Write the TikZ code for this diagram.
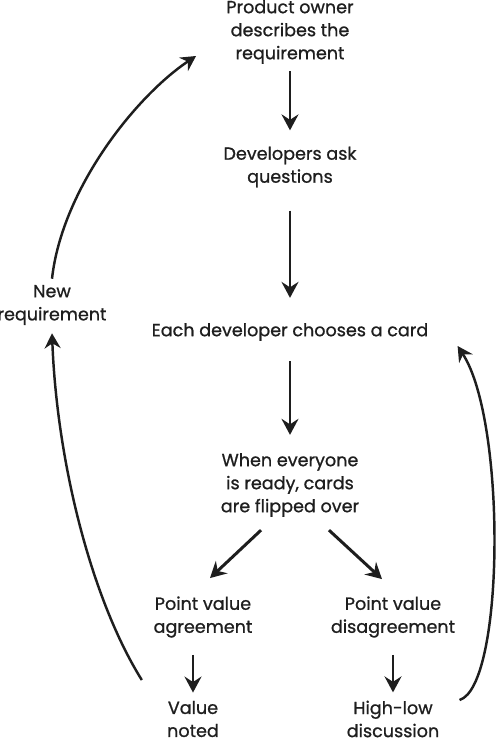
\documentclass[tikz,border=0pt]{standalone}
\usepackage{fontspec}
\setmainfont{Poppins}[FakeBold=0.9]
\usepackage{xcolor}
\usepackage{tikz}
\usetikzlibrary{arrows.meta, positioning}
\definecolor{pokerink}{HTML}{1E1E1E}

\begin{document}
\begin{tikzpicture}[
        on grid,
        node distance=2.7cm and 2cm,
        label/.style={
            inner sep=0pt,
            align=center,
            text=pokerink,
            font=\fontsize{10}{13.1}\selectfont
        },
        arrow/.style={-{Stealth[length=3.2mm, width=3.4mm, inset=1.1mm]}, line width=1.7pt, draw=pokerink},
        loop/.style={-{Stealth[length=3mm, width=3.2mm, inset=1mm]}, line width=1.4pt, draw=pokerink}
    ]
        \useasboundingbox (0,0) rectangle (10,-14.78);

        \node[label] (owner) at (5.8,-0.64) {Product owner\\describes the\\requirement};
        \node[label, below=2.7cm of owner] (ask) {Developers ask\\questions};
        \node[label, below=3.3cm of ask] (choose) {Each developer chooses a card};
        \node[label, below=3.06cm of choose] (flip) {When everyone\\is ready, cards\\are flipped over};
        \node[label, below left=2.64cm and 1.74cm of flip] (agree) {Point value\\agreement};
        \node[label, below right=2.64cm and 2.06cm of flip] (disagree) {Point value\\disagreement};
        \node[label, below=2.04cm of agree, xshift=-0.2cm] (noted) {Value\\noted};
        \node[label, below=2.04cm of disagree] (highlow) {High-low\\discussion};
        \node[label, above left=0.54cm and 4.76cm of choose] (newreq) {New\\requirement};

        \draw[arrow, shorten <=0.14cm, shorten >=0.32cm] (owner) -- (ask);
        \draw[arrow, shorten <=0.46cm, shorten >=0.5cm] (ask) -- (choose);
        \draw[arrow, shorten <=0.4cm, shorten >=0.36cm] (choose) -- (flip);
        \draw[arrow] ([shift={(-0.58,-0.26)}]flip.south) -- ([shift={(0.14,0.36)}]agree.north);
        \draw[arrow] ([shift={(0.78,-0.26)}]flip.south) -- ([shift={(-0.22,0.34)}]disagree.north);
        \draw[arrow, shorten <=0.34cm, shorten >=0.16cm] (noted.north |- agree.south) -- (noted.north);
        \draw[arrow, shorten <=0.34cm, shorten >=0.16cm] (highlow.north |- disagree.south) -- (highlow.north);

        \draw[loop] ([yshift=0.12cm]newreq.north) .. controls +(0.2,1.8) and +(-1.2,-0.8) .. ([shift={(-0.6,-0.48)}]owner.west);
        \draw[loop] ([shift={(-0.5,0.78)}]noted.west) .. controls +(-1.0,1.6) and +(0.1,-2.6) .. ([yshift=-0.16cm]newreq.south);
        \draw[loop] ([shift={(0.4,0.38)}]highlow.east) .. controls +(0.9,0.28) and +(0.98,-1.5) .. ([shift={(0.58,-0.28)}]choose.east);
    \end{tikzpicture}
\end{document}
